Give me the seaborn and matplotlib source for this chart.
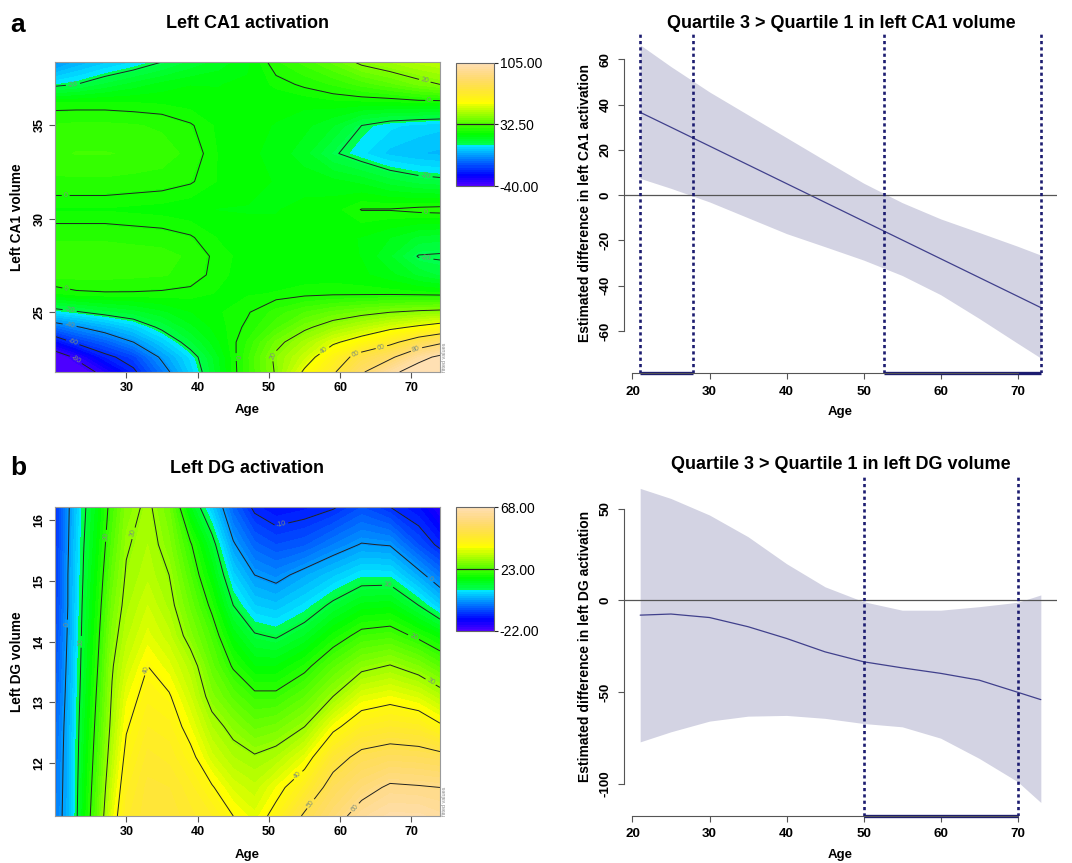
import colorsys
import numpy as np
import matplotlib
matplotlib.use("Agg")
import matplotlib.pyplot as plt
from matplotlib.colors import ListedColormap, Normalize
from matplotlib.cm import ScalarMappable
import seaborn as sns

sns.set_style("ticks")
plt.rcParams['font.family'] = ['Liberation Sans', 'DejaVu Sans']
plt.rcParams['text.color'] = 'black'
plt.rcParams['xtick.labelcolor'] = 'black'
plt.rcParams['ytick.labelcolor'] = 'black'
plt.rcParams['contour.negative_linestyle'] = 'solid'

# ---------------- data ----------------
# panel a, left: fitted surface (rows = volume, columns = age)
ca1_age = [20, 23, 27, 31, 35, 39, 43, 47, 51, 55, 59, 63, 67, 71, 74]
ca1_vol = [21.8, 22.6, 23.4, 24.2, 25.0, 26.0, 27.0, 28.0, 29.0, 30.5,
           32.0, 33.5, 35.0, 36.2, 37.2, 38.4]
ca1_fit = [
    [-100, -88, -76, -62, -45, -27, -10, 6, 21, 42, 58, 78, 96, 108, 115],
    [-88, -78, -63, -55, -38, -24, -9, 6, 22, 34, 50, 67, 77, 95, 103],
    [-68, -58, -50, -40, -28, -16, -6, 4, 17, 27, 38, 46, 56, 69, 77],
    [-47, -41, -34, -27, -18, -10, -4, 1, 9, 18, 25, 31, 37, 42, 46],
    [-24, -21, -17, -14, -10, -6, -3, -0.5, 5, 10, 14, 17, 20, 22, 23],
    [-3, -1, -0.5, -0.5, -0.8, -1.5, -3, -3, -2.5, -1.5, -1, -1, -1, -1.5, -2],
    [5, 5, 5, 4.5, 4, 2.5, -2, -4, -4, -4, -4, -5, -8, -13, -16],
    [6, 6, 6, 5.5, 5, 3, -1.5, -4, -4, -4, -4, -6, -12, -20.5, -21],
    [3, 3, 3, 2.5, 2, 0.5, -3, -5, -5, -5, -5, -6, -9, -13, -14],
    [-3, -3, -3, -3.5, -4, -5, -6, -6, -6, -5, -4, 0.2, 0.3, 1.5, 2],
    [3, 3, 3, 2.5, 2, 0.5, -3, -5, -6, -7, -8, -10, -14, -17, -18],
    [6, 7, 7, 6.5, 5.5, 2.5, -3, -5, -7, -11, -19, -24, -29, -31, -32],
    [4, 4.5, 4.5, 4, 3, 0.5, -3.5, -5, -6, -8, -12, -20, -24, -26, -27],
    [-2, -2, -2, -2.5, -3, -4, -5, -5.5, -5, -5, -4, -4, -4, -3, -3],
    [-22, -20, -15, -11, -8, -6, -6, -5, -2, 1, 4, 8, 12, 17, 20],
    [-40, -34, -29, -25, -20, -15, -11, -7, 3, 8, 14, 22, 26, 30, 32],
]
ca1_levels = [-100, -80, -60, -40, -20, 0, 20, 40, 60, 80, 100]
ca1_bar = [-40, 32.5, 105]

# panel b, left: fitted surface (listed column by column = age)
dg_age = [20, 22, 24, 26, 28, 30, 33, 36, 39, 42, 45, 48, 51, 55, 59, 63, 67, 71, 74]
dg_vol = [11.13, 11.6, 12.1, 12.6, 13.1, 13.6, 14.1, 14.6, 15.1, 15.6, 16.22]
dg_fit_cols = [
    [-3, -3.5, -4, -5, -6, -7, -8, -9, -9.5, -10, -10],
    [3, 3, 3, 3, 2.5, 2, 1.5, 1, 1, 0.5, 0],
    [15.5, 14.8, 14, 13.3, 12.6, 12, 11.5, 11, 10.3, 9.8, 9],
    [25, 24, 23, 22, 21, 20, 19, 18, 17, 16, 15],
    [37, 35, 33, 31.5, 30.5, 29.5, 28, 26.5, 25, 23.5, 22],
    [45, 43.5, 41.5, 39.5, 37.5, 35, 33, 31.5, 30.5, 29.5, 28],
    [48, 47.5, 46, 44, 42, 40, 37, 35, 33, 32, 31],
    [48, 47, 45, 43, 40.5, 37, 34, 31.5, 30, 28, 26],
    [46, 44.5, 41.5, 38, 35, 32.5, 28, 25.5, 23, 20.5, 14],
    [44, 40.5, 35.5, 32, 28, 25, 22.5, 19, 15.5, 12, 5],
    [40, 36, 32, 28.5, 24, 19.5, 15, 10, 5.5, 0.6, -5],
    [37, 34, 30.5, 25.5, 21, 15.5, 10.5, 5, 0, -5, -11],
    [42, 38, 32, 26.5, 21, 15.5, 9.5, 4, -1.5, -7, -13],
    [51, 44.3, 37.1, 30, 24.4, 18.75, 12.5, 6.8, 1.6, -5.8, -12],
    [57, 53, 47, 38.5, 30, 24, 17.5, 11, 4.5, -2.5, -10.5],
    [63, 57.5, 52, 44, 36.5, 28.5, 21.5, 14.5, 7.5, 0.3, -7],
    [65.5, 61, 53.5, 45.5, 38, 30.3, 22.3, 15, 7.5, -0.3, -10],
    [65.5, 60.5, 53, 44.5, 36, 27.5, 19, 10, 1.5, -7, -13],
    [64, 60, 52, 41, 32.5, 24, 16, 5, -3.5, -11, -18],
]
dg_levels = [-10, 0, 10, 20, 30, 40, 50, 60]
dg_bar = [-22, 23, 68]

# right panels: difference curves
diff_age = [21, 25, 30, 35, 40, 45, 50, 55, 60, 65, 70, 73]
ca1_mean = [36.6, 30.0, 21.7, 13.4, 5.1, -3.2, -11.5, -19.8, -28.1, -36.4, -44.7, -49.7]
ca1_hi = [66.4, 56.8, 45.6, 35.5, 25.4, 15.3, 5.3, -3.3, -10.5, -16.5, -22.6, -26.5]
ca1_lo = [7.4, 3.0, -3.0, -10.0, -17.0, -22.8, -28.7, -35.5, -44.0, -54.5, -65.5, -72.0]
ca1_sig = [(21, 27.8), (52.6, 73)]

dg_mean = [-8, -7.4, -9.3, -14.3, -20.7, -28, -33.4, -36.7, -39.7, -43.4, -50, -54]
dg_hi = [61, 55.5, 46.5, 34.7, 20, 7.4, -0.7, -5.3, -5.3, -3.4, -1, 3]
dg_lo = [-77, -71.5, -65.7, -63, -62.6, -64.2, -67, -68.8, -75, -86, -98.7, -110]
dg_sig = [(50, 70)]

# where the contour labels sit (age, volume)
ca1_label_at = [(22.5, 37.3), (72, 37.6), (72.5, 36.7), (72, 32.4), (21.5, 31.7),
                (21.5, 26.1), (72, 30.3), (72, 27.6), (22, 24.9), (22, 24.2),
                (22.5, 23.4), (23, 22.5), (45.4, 22.6), (50.5, 22.7), (57.5, 23.1),
                (62, 22.9), (66, 22.8), (71, 22.7)]
dg_label_at = [(21.5, 14.3), (23.3, 14.0), (26.6, 15.75), (30.6, 15.8), (32.5, 13.55),
               (52, 15.8), (72.5, 15.0), (66.7, 14.9), (70.2, 14.05), (72.5, 13.3),
               (54.1, 11.8), (56.2, 11.3), (61.3, 11.35)]


def topo_colors(n):
    # same construction as R's topo.colors()
    j = n // 3
    k = n // 3
    i = n - j - k
    cols = [colorsys.hsv_to_rgb(h, 1, 1) for h in np.linspace(43/60, 31/60, i)]
    cols += [colorsys.hsv_to_rgb(h, 1, 1) for h in np.linspace(23/60, 11/60, j)]
    cols += [colorsys.hsv_to_rgb(h, s, 1)
             for h, s in zip(np.linspace(10/60, 6/60, k), np.linspace(1, 0.3, k))]
    return ListedColormap(cols)


topo = topo_colors(60)
W, H = 1072, 863


def box(x0, y0, x1, y1):
    return [x0 / W, 1 - y1 / H, (x1 - x0) / W, (y1 - y0) / H]


def ftext(x, y, s, **kw):
    fig.text(x / W, 1 - y / H, s, **kw)


fig = plt.figure(figsize=(W / 100, H / 100), dpi=100)


def surface(ax, cax, ages, vols, z, vmin, vmax, levels, bar, yticks, label_at):
    X, Y = np.meshgrid(ages, vols)
    z = np.asarray(z, dtype=float)
    norm = Normalize(vmin, vmax)
    ax.contourf(X, Y, z, levels=np.linspace(vmin, vmax, 61), cmap=topo,
                norm=norm, extend='both')
    cs = ax.contour(X, Y, z, levels=levels, colors='#222222', linewidths=0.7)
    ax.clabel(cs, fmt='%d', fontsize=5, colors='#7d8f7d', inline=True,
              inline_spacing=2, manual=label_at)
    ax.set_xlim(20, 74)
    ax.set_ylim(vols[0], vols[-1])
    ax.set_xticks([30, 40, 50, 60, 70])
    ax.set_yticks(yticks)
    ax.set_yticklabels([str(t) for t in yticks], rotation=90, va='center')
    ax.tick_params(length=4, width=0.8, color='#555555', labelsize=9, pad=3)
    for lbl in ax.get_xticklabels() + ax.get_yticklabels():
        lbl.set_fontweight('bold')
    for sp in ax.spines.values():
        sp.set_color('#999999')
        sp.set_linewidth(0.8)
    ax.text(1.004, 0.0, 'fitted values', transform=ax.transAxes, rotation=90,
            fontsize=4, color='#888888', ha='left', va='bottom')

    sm = ScalarMappable(norm=Normalize(bar[0], bar[-1]), cmap=topo)
    cb = fig.colorbar(sm, cax=cax, ticks=bar, format='%.2f')
    cb.outline.set_edgecolor('#666666')
    cb.outline.set_linewidth(0.8)
    cax.axhline(bar[1], color='#222222', lw=0.9)
    cax.tick_params(length=3, width=0.8, labelsize=10, pad=1)


def difference(ax, mean, hi, lo, sig, ylim, yticks):
    ax.fill_between(diff_age, lo, hi, color='#d3d3e3', lw=0)
    sns.lineplot(x=diff_age, y=mean, ax=ax, color='#40408c', linewidth=0.9)
    ax.axhline(0, color='#555555', lw=0.9)
    for a, b in sig:
        ax.vlines([a, b], ylim[0], ylim[1], colors='#1c1c70', lw=1.9,
                  linestyles=(0, (1.2, 1.2)))
        ax.hlines(ylim[0], a, b, colors='#1c1c70', lw=2.4, clip_on=False)
    ax.set_xlim(18.9, 75.1)
    ax.set_ylim(*ylim)
    ax.set_xticks([20, 30, 40, 50, 60, 70])
    ax.set_yticks(yticks)
    ax.set_yticklabels([str(t) for t in yticks], rotation=90, va='center')
    for s in ['top', 'right']:
        ax.spines[s].set_visible(False)
    ax.spines['left'].set_bounds(yticks[0], yticks[-1])
    ax.spines['bottom'].set_bounds(20, 70)
    for s in ['left', 'bottom']:
        ax.spines[s].set_color('#555555')
        ax.spines[s].set_linewidth(0.8)
    ax.tick_params(length=4, width=0.8, color='#555555', labelsize=9.6, pad=5)
    for lbl in ax.get_xticklabels() + ax.get_yticklabels():
        lbl.set_fontweight('bold')
    ax.set_xlabel('')
    ax.set_ylabel('')


# ---- panel a ----
ax_a = fig.add_axes(box(55, 62, 440, 372))
cax_a = fig.add_axes(box(455.7, 62.7, 494.3, 186))
surface(ax_a, cax_a, ca1_age, ca1_vol, ca1_fit, -85, 105, ca1_levels,
        ca1_bar, [25, 30, 35], ca1_label_at)
ax_ar = fig.add_axes(box(624, 32, 1057, 373))
difference(ax_ar, ca1_mean, ca1_hi, ca1_lo, ca1_sig, (-78.6, 72.1),
           [-60, -40, -20, 0, 20, 40, 60])

# ---- panel b ----
dg_fit = np.asarray(dg_fit_cols).T
ax_b = fig.add_axes(box(55, 507, 440, 816))
cax_b = fig.add_axes(box(455.7, 507.3, 494.3, 630.7))
surface(ax_b, cax_b, dg_age, dg_vol, dg_fit, -22, 68, dg_levels,
        dg_bar, [12, 13, 14, 15, 16], dg_label_at)
ax_br = fig.add_axes(box(624, 475, 1057, 815.7))
difference(ax_br, dg_mean, dg_hi, dg_lo, dg_sig, (-117.2, 68.3),
           [-100, -50, 0, 50])

# ---- text ----
bold = dict(fontweight='bold', ha='center', va='center')
ftext(10, 32, 'a', fontsize=19, fontweight='bold', ha='left', va='baseline')
ftext(10, 475, 'b', fontsize=19, fontweight='bold', ha='left', va='baseline')
ftext(247.5, 24, 'Left CA1 activation', fontsize=13, **bold)
ftext(247.5, 468, 'Left DG activation', fontsize=13, **bold)
ftext(841, 24, 'Quartile 3 > Quartile 1 in left CA1 volume', fontsize=13, **bold)
ftext(841, 464, 'Quartile 3 > Quartile 1 in left DG volume', fontsize=13, **bold)
ftext(247.5, 410, 'Age', fontsize=9.5, **bold)
ftext(247.5, 855, 'Age', fontsize=9.5, **bold)
ftext(840, 412, 'Age', fontsize=9.5, **bold)
ftext(840, 855, 'Age', fontsize=9.5, **bold)
ftext(17.5, 217, 'Left CA1 volume', fontsize=9.8, rotation=90, **bold)
ftext(17.5, 662, 'Left DG volume', fontsize=9.8, rotation=90, **bold)
ftext(585, 202.5, 'Estimated difference in left CA1 activation', fontsize=10,
      rotation=90, **bold)
ftext(585, 646, 'Estimated difference in left DG activation', fontsize=10,
      rotation=90, **bold)

fig.savefig('out.png', dpi=100)
